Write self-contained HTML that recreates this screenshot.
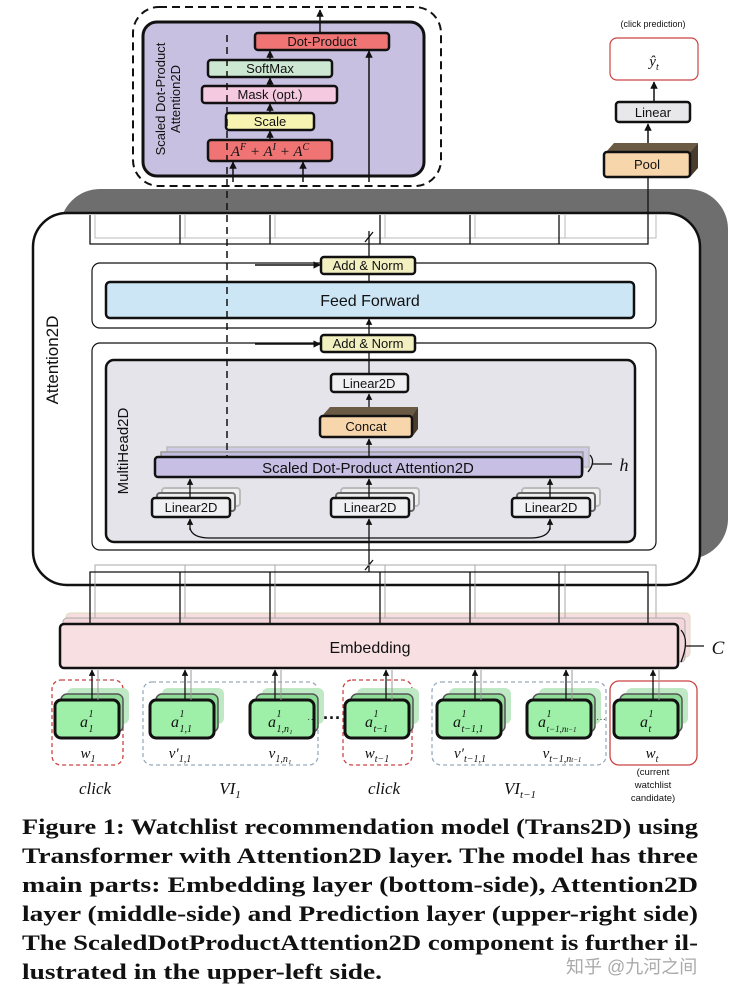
<!DOCTYPE html>
<html><head><meta charset="utf-8"><style>
body{margin:0;background:#fff;}
svg{display:block;font-family:"Liberation Sans",Arial,sans-serif;}
.b{stroke:#111;stroke-width:3;}
.t{font-size:13px;text-anchor:middle;fill:#111;}
.m{font-family:"Liberation Serif",serif;font-style:italic;text-anchor:middle;fill:#111;}
.s{font-family:"Liberation Serif",serif;font-style:italic;fill:#111;}
.cap{font-family:"Liberation Serif",serif;font-weight:bold;font-size:22px;fill:#111;}
</style></head><body>
<svg width="740" height="997" viewBox="0 0 740 997" xmlns="http://www.w3.org/2000/svg">
<defs>
<marker id="a" viewBox="0 0 10 10" refX="9" refY="5" markerWidth="5" markerHeight="5" orient="auto"><path d="M0,0L10,5L0,10z" fill="#111"/></marker>
</defs>
<!-- top SDPA -->
<rect x="133" y="7" width="308" height="179" rx="26" fill="#fff" stroke="#111" stroke-width="2" stroke-dasharray="8,5"/>
<rect x="143" y="22" width="281" height="154" rx="14" fill="#c7c0e0" class="b"/>
<text transform="translate(165,99) rotate(-90)" class="t" style="font-size:13px">Scaled Dot-Product</text>
<text transform="translate(180,99) rotate(-90)" class="t" style="font-size:13px">Attention2D</text>
<line x1="320" y1="33" x2="320" y2="10" stroke="#111" stroke-width="1.5" marker-end="url(#a)"/>
<rect x="255" y="33" width="134" height="17" rx="3" fill="#f07474" stroke="#111" stroke-width="2.5"/>
<text x="322" y="46" class="t">Dot-Product</text>
<rect x="208" y="60" width="124" height="17" rx="3" fill="#cde8d2" stroke="#111" stroke-width="2.5"/>
<text x="270" y="73" class="t">SoftMax</text>
<rect x="202" y="86" width="135" height="17" rx="3" fill="#f5c9e0" stroke="#111" stroke-width="2.5"/>
<text x="270" y="99" class="t">Mask (opt.)</text>
<rect x="226" y="113" width="88" height="17" rx="3" fill="#f7f4b2" stroke="#111" stroke-width="2.5"/>
<text x="270" y="126" class="t">Scale</text>
<rect x="208" y="140" width="124" height="21" rx="3" fill="#f07474" stroke="#111" stroke-width="2.5"/>
<text x="270" y="156" class="m" style="font-size:15px">A<tspan dy="-6" font-size="10">F</tspan><tspan dy="6"> + A</tspan><tspan dy="-6" font-size="10">I</tspan><tspan dy="6"> + A</tspan><tspan dy="-6" font-size="10">C</tspan></text>
<g stroke="#111" stroke-width="1.5" marker-end="url(#a)">
<line x1="270" y1="140" x2="270" y2="131"/><line x1="270" y1="113" x2="270" y2="104"/><line x1="270" y1="86" x2="270" y2="78"/><line x1="270" y1="60" x2="270" y2="51"/>
<line x1="233" y1="182" x2="233" y2="162"/><line x1="303" y1="182" x2="303" y2="162"/><line x1="369" y1="182" x2="369" y2="51"/>
</g>
<!-- prediction -->
<text x="653" y="27" class="t" style="font-size:9px">(click prediction)</text>
<rect x="610" y="38" width="88" height="42" rx="7" fill="#fff" stroke="#c44" stroke-width="1.2"/>
<text x="654" y="66" class="m" style="font-size:15px">ŷ<tspan dy="4" font-size="10">t</tspan></text>
<line x1="654" y1="102" x2="654" y2="82" stroke="#111" stroke-width="1.5" marker-end="url(#a)"/>
<rect x="616" y="102" width="74" height="20" rx="3" fill="#e8e8ea" stroke="#111" stroke-width="2.5"/>
<text x="653" y="117" class="t">Linear</text>
<line x1="648" y1="150" x2="648" y2="124" stroke="#111" stroke-width="1.5" marker-end="url(#a)"/>
<polygon points="606,152 614,143 698,143 690,152" fill="#6b5a44"/>
<polygon points="690,152 698,143 698,168 690,177" fill="#4a3c2c"/>
<rect x="604" y="152" width="86" height="25" rx="3" fill="#f8d6ac" stroke="#111" stroke-width="2.5"/>
<text x="647" y="169" class="t">Pool</text>
<!-- Attention2D box -->
<rect x="60" y="189" width="668" height="370" rx="40" fill="#6e6e6e"/>
<rect x="33" y="213" width="667" height="372" rx="34" fill="#fff" stroke="#111" stroke-width="2.5"/>
<text transform="translate(58,360) rotate(-90)" class="t" style="font-size:17px">Attention2D</text>
<g stroke="#bbb" stroke-width="1" fill="none">
<path d="M95,215V238H656V215"/><path d="M185,215V238M275,215V238M385,215V238M475,215V238M565,215V238"/>
</g>
<g stroke="#111" stroke-width="1.3" fill="none">
<path d="M90,215V244H648V176"/><path d="M180,215V244M270,215V244M380,215V244M470,215V244M559,215V244"/>
<path d="M369,257V231"/><path d="M365,242L373,232"/>
</g>
<rect x="92" y="263" width="564" height="65" rx="8" fill="none" stroke="#111" stroke-width="1.2"/>
<line x1="255" y1="265" x2="320" y2="265" stroke="#111" stroke-width="1.5" marker-end="url(#a)"/>
<rect x="321" y="257" width="94" height="17" rx="3" fill="#f2f0c0" stroke="#111" stroke-width="2.5"/>
<text x="368" y="270" class="t">Add &amp; Norm</text>
<rect x="106" y="282" width="528" height="36" rx="4" fill="#cde6f6" stroke="#111" stroke-width="2.5"/>
<text x="370" y="306" class="t" style="font-size:16px">Feed Forward</text>
<line x1="369" y1="282" x2="369" y2="275" stroke="#111" stroke-width="1.3"/>
<line x1="369" y1="335" x2="369" y2="319" stroke="#111" stroke-width="1.3" marker-end="url(#a)"/>
<rect x="92" y="343" width="564" height="207" rx="8" fill="none" stroke="#111" stroke-width="1.2"/>
<line x1="255" y1="344" x2="320" y2="344" stroke="#111" stroke-width="1.5" marker-end="url(#a)"/>
<rect x="321" y="335" width="94" height="17" rx="3" fill="#f2f0c0" stroke="#111" stroke-width="2.5"/>
<text x="368" y="348" class="t">Add &amp; Norm</text>
<rect x="106" y="360" width="529" height="182" rx="8" fill="#e4e4ea" stroke="#111" stroke-width="2.5"/>
<text transform="translate(128,451) rotate(-90)" class="t" style="font-size:15px">MultiHead2D</text>
<line x1="369" y1="374" x2="369" y2="353" stroke="#111" stroke-width="1.3"/>
<rect x="331" y="374" width="77" height="18" rx="3" fill="#f0f0f2" stroke="#111" stroke-width="2.5"/>
<text x="369" y="388" class="t">Linear2D</text>
<line x1="369" y1="416" x2="369" y2="394" stroke="#111" stroke-width="1.3" marker-end="url(#a)"/>
<polygon points="322,416 330,407 418,407 412,416" fill="#6b5a44"/>
<polygon points="412,416 418,407 418,429 412,437" fill="#4a3c2c"/>
<rect x="320" y="416" width="92" height="21" rx="3" fill="#f8d6ac" stroke="#111" stroke-width="2.5"/>
<text x="366" y="431" class="t">Concat</text>
<rect x="167" y="447" width="422" height="20" fill="#cfcbe4" stroke="#bbb" stroke-width="1.5"/>
<rect x="161" y="452" width="422" height="20" fill="#c3bde0" stroke="#999" stroke-width="1.5"/>
<line x1="369" y1="457" x2="369" y2="439" stroke="#111" stroke-width="1.3" marker-end="url(#a)"/>
<rect x="155" y="457" width="427" height="20" rx="3" fill="#c7c0e4" stroke="#111" stroke-width="2.5"/>
<text x="368" y="473" class="t" style="font-size:15px">Scaled Dot-Product Attention2D</text>
<path d="M590,455 Q596,462 588,472 M592,464H612" stroke="#111" stroke-width="1.3" fill="none"/>
<text x="624" y="471" class="m" style="font-size:18px">h</text>
<line x1="227" y1="35" x2="227" y2="457" stroke="#111" stroke-width="1.5" stroke-dasharray="7,5"/>
<g>
<rect x="162" y="488" width="78" height="18" rx="3" fill="#eee" stroke="#bbb" stroke-width="2"/>
<rect x="157" y="493" width="78" height="18" rx="3" fill="#eee" stroke="#666" stroke-width="2"/>
<rect x="341" y="488" width="78" height="18" rx="3" fill="#eee" stroke="#bbb" stroke-width="2"/>
<rect x="336" y="493" width="78" height="18" rx="3" fill="#eee" stroke="#666" stroke-width="2"/>
<rect x="522" y="488" width="78" height="18" rx="3" fill="#eee" stroke="#bbb" stroke-width="2"/>
<rect x="517" y="493" width="78" height="18" rx="3" fill="#eee" stroke="#666" stroke-width="2"/>
</g>
<g stroke="#111" stroke-width="1.3" marker-end="url(#a)">
<line x1="190" y1="498" x2="190" y2="479"/><line x1="369" y1="498" x2="369" y2="479"/><line x1="550" y1="498" x2="550" y2="479"/>
</g>
<rect x="152" y="498" width="78" height="19" rx="3" fill="#f0f0f2" stroke="#111" stroke-width="2.5"/>
<text x="191" y="512" class="t">Linear2D</text>
<rect x="331" y="498" width="78" height="19" rx="3" fill="#f0f0f2" stroke="#111" stroke-width="2.5"/>
<text x="370" y="512" class="t">Linear2D</text>
<rect x="512" y="498" width="78" height="19" rx="3" fill="#f0f0f2" stroke="#111" stroke-width="2.5"/>
<text x="551" y="512" class="t">Linear2D</text>
<path d="M190,528 Q192,538 210,538 H530 Q548,538 550,528" stroke="#111" stroke-width="1.3" fill="none"/>
<line x1="190" y1="530" x2="190" y2="519" stroke="#111" stroke-width="1.3" marker-end="url(#a)"/>
<line x1="550" y1="530" x2="550" y2="519" stroke="#111" stroke-width="1.3" marker-end="url(#a)"/>
<line x1="369" y1="572" x2="369" y2="519" stroke="#111" stroke-width="1.3" marker-end="url(#a)"/>
<path d="M365,570L373,560" stroke="#111" stroke-width="1.3"/>
<rect x="66" y="613" width="624" height="44" rx="4" fill="#f5dde0" stroke="#ddb" stroke-width="1"/>
<rect x="63" y="618" width="622" height="44" rx="4" fill="#f3d6da" stroke="#aaa" stroke-width="1"/>
<g stroke="#aaa" stroke-width="1" fill="none">
<path d="M95,618V565H656V618"/><path d="M185,565V618M275,565V618M385,565V618M475,565V618M565,565V618"/>
</g>
<g stroke="#111" stroke-width="1.3" fill="none">
<path d="M90,624V572H648V624"/><path d="M180,572V624M270,572V624M380,572V624M470,572V624M559,572V624"/>
</g>
<rect x="60" y="624" width="618" height="44" rx="4" fill="#f8dfe2" stroke="#111" stroke-width="2.5"/>
<text x="370" y="653" class="t" style="font-size:16px">Embedding</text>
<path d="M681,630 Q690,640 681,662 M686,646H704" stroke="#111" stroke-width="1.3" fill="none"/>
<text x="718" y="654" class="m" style="font-size:19px">C</text>
<rect x="52" y="680" width="71" height="85" rx="9" fill="none" stroke="#c44" stroke-width="1.3" stroke-dasharray="4,3"/>
<rect x="143" y="682" width="175" height="83" rx="9" fill="none" stroke="#9ab" stroke-width="1.3" stroke-dasharray="4,3"/>
<rect x="343" y="680" width="69" height="85" rx="9" fill="none" stroke="#c44" stroke-width="1.3" stroke-dasharray="4,3"/>
<rect x="432" y="682" width="174" height="83" rx="9" fill="none" stroke="#9ab" stroke-width="1.3" stroke-dasharray="4,3"/>
<rect x="610" y="681" width="87" height="84" rx="9" fill="none" stroke="#c44" stroke-width="1.3"/>
<g>
<g transform="translate(55,0)"><rect x="12" y="688" width="62" height="36" rx="6" fill="#bfe9c4"/><rect x="6" y="694" width="62" height="38" rx="6" fill="#8fdc98" stroke="#555" stroke-width="1.5"/><rect x="0" y="700" width="64" height="38" rx="6" fill="#9ef0a8" stroke="#111" stroke-width="3"/></g>
<g transform="translate(150,0)"><rect x="12" y="688" width="62" height="36" rx="6" fill="#bfe9c4"/><rect x="6" y="694" width="62" height="38" rx="6" fill="#8fdc98" stroke="#555" stroke-width="1.5"/><rect x="0" y="700" width="64" height="38" rx="6" fill="#9ef0a8" stroke="#111" stroke-width="3"/></g>
<g transform="translate(250,0)"><rect x="12" y="688" width="62" height="36" rx="6" fill="#bfe9c4"/><rect x="6" y="694" width="62" height="38" rx="6" fill="#8fdc98" stroke="#555" stroke-width="1.5"/><rect x="0" y="700" width="64" height="38" rx="6" fill="#9ef0a8" stroke="#111" stroke-width="3"/></g>
<g transform="translate(345,0)"><rect x="12" y="688" width="62" height="36" rx="6" fill="#bfe9c4"/><rect x="6" y="694" width="62" height="38" rx="6" fill="#8fdc98" stroke="#555" stroke-width="1.5"/><rect x="0" y="700" width="64" height="38" rx="6" fill="#9ef0a8" stroke="#111" stroke-width="3"/></g>
<g transform="translate(437,0)"><rect x="12" y="688" width="62" height="36" rx="6" fill="#bfe9c4"/><rect x="6" y="694" width="62" height="38" rx="6" fill="#8fdc98" stroke="#555" stroke-width="1.5"/><rect x="0" y="700" width="64" height="38" rx="6" fill="#9ef0a8" stroke="#111" stroke-width="3"/></g>
<g transform="translate(527,0)"><rect x="12" y="688" width="62" height="36" rx="6" fill="#bfe9c4"/><rect x="6" y="694" width="62" height="38" rx="6" fill="#8fdc98" stroke="#555" stroke-width="1.5"/><rect x="0" y="700" width="64" height="38" rx="6" fill="#9ef0a8" stroke="#111" stroke-width="3"/></g>
<g transform="translate(614,0)"><rect x="12" y="688" width="62" height="36" rx="6" fill="#bfe9c4"/><rect x="6" y="694" width="62" height="38" rx="6" fill="#8fdc98" stroke="#555" stroke-width="1.5"/><rect x="0" y="700" width="64" height="38" rx="6" fill="#9ef0a8" stroke="#111" stroke-width="3"/></g>
</g>
<g stroke="#111" stroke-width="1.3" marker-end="url(#a)">
<line x1="92" y1="700" x2="92" y2="670"/><line x1="185" y1="700" x2="185" y2="670"/><line x1="275" y1="700" x2="275" y2="670"/><line x1="386" y1="700" x2="386" y2="670"/><line x1="475" y1="700" x2="475" y2="670"/><line x1="566" y1="700" x2="566" y2="670"/><line x1="653" y1="700" x2="653" y2="670"/>
</g>
<g stroke="#999" stroke-width="1"><line x1="98" y1="700" x2="98" y2="670"/><line x1="191" y1="700" x2="191" y2="670"/><line x1="281" y1="700" x2="281" y2="670"/><line x1="392" y1="700" x2="392" y2="670"/><line x1="481" y1="700" x2="481" y2="670"/><line x1="572" y1="700" x2="572" y2="670"/><line x1="659" y1="700" x2="659" y2="670"/></g>
<!-- a labels -->
<g class="s">
<text x="80" y="727" class="s" font-size="16">a</text><text x="88.5" y="732" class="s" font-size="10">1</text><text x="88.5" y="717" class="s" font-size="10">1</text>
<text x="171" y="727" class="s" font-size="16">a</text><text x="179.5" y="732" class="s" font-size="10">1,1</text><text x="179.5" y="717" class="s" font-size="10">1</text>
<text x="268" y="727" class="s" font-size="16">a</text><text x="276.5" y="732" class="s" font-size="10">1,n₁</text><text x="276.5" y="717" class="s" font-size="10">1</text>
<text x="365" y="727" class="s" font-size="16">a</text><text x="373.5" y="732" class="s" font-size="10">t−1</text><text x="373.5" y="717" class="s" font-size="10">1</text>
<text x="453" y="727" class="s" font-size="16">a</text><text x="461.5" y="732" class="s" font-size="10">t−1,1</text><text x="461.5" y="717" class="s" font-size="10">1</text>
<text x="538" y="727" class="s" font-size="16">a</text><text x="546.5" y="732" class="s" font-size="9">t−1,n<tspan font-size="7">t−1</tspan></text><text x="546.5" y="717" class="s" font-size="10">1</text>
<text x="640" y="727" class="s" font-size="16">a</text><text x="648.5" y="732" class="s" font-size="10">t</text><text x="648.5" y="717" class="s" font-size="10">1</text>
</g>
<text x="307" y="722" style="font-size:10px" fill="#333">···</text>
<text x="596" y="722" style="font-size:10px" fill="#333">···</text>
<text x="323" y="724" style="font-size:18px;font-weight:bold" fill="#111">···</text>
<g style="font-size:15px">
<text x="88" y="758" class="m">w<tspan dy="4" font-size="10">1</tspan></text>
<text x="180" y="758" class="m">v′<tspan dy="4" font-size="10">1,1</tspan></text>
<text x="280" y="758" class="m">v<tspan dy="4" font-size="10">1,n₁</tspan></text>
<text x="377" y="758" class="m">w<tspan dy="4" font-size="10">t−1</tspan></text>
<text x="470" y="758" class="m">v′<tspan dy="4" font-size="10">t−1,1</tspan></text>
<text x="562" y="758" class="m">v<tspan dy="4" font-size="10">t−1,n<tspan font-size="7">t−1</tspan></tspan></text>
<text x="652" y="758" class="m">w<tspan dy="4" font-size="10">t</tspan></text>
</g>
<text x="653" y="775" class="t" style="font-size:9.5px">(current</text>
<text x="653" y="788" class="t" style="font-size:9.5px">watchlist</text>
<text x="653" y="801" class="t" style="font-size:9.5px">candidate)</text>
<text x="95" y="794" class="m" style="font-size:17px">click</text>
<text x="230" y="794" class="m" style="font-size:17px">VI<tspan dy="4" font-size="11">1</tspan></text>
<text x="384" y="794" class="m" style="font-size:17px">click</text>
<text x="520" y="794" class="m" style="font-size:17px">VI<tspan dy="4" font-size="11">t−1</tspan></text>
<!-- caption -->
<text x="22" y="834" class="cap" textLength="676" lengthAdjust="spacingAndGlyphs">Figure 1: Watchlist recommendation model (Trans2D) using</text>
<text x="22" y="863" class="cap" textLength="676" lengthAdjust="spacingAndGlyphs">Transformer with Attention2D layer. The model has three</text>
<text x="22" y="892" class="cap" textLength="676" lengthAdjust="spacingAndGlyphs">main parts: Embedding layer (bottom-side), Attention2D</text>
<text x="22" y="921" class="cap" textLength="676" lengthAdjust="spacingAndGlyphs">layer (middle-side) and Prediction layer (upper-right side)</text>
<text x="22" y="950" class="cap" textLength="676" lengthAdjust="spacingAndGlyphs">The ScaledDotProductAttention2D component is further il-</text>
<text x="22" y="979" class="cap" textLength="360" lengthAdjust="spacingAndGlyphs">lustrated in the upper-left side.</text>
<text x="566" y="973" style="font-family:'Liberation Sans','Noto Sans CJK SC',sans-serif;font-size:18px" fill="#aaa">知乎 @九河之间</text>
</svg>
</body></html>
